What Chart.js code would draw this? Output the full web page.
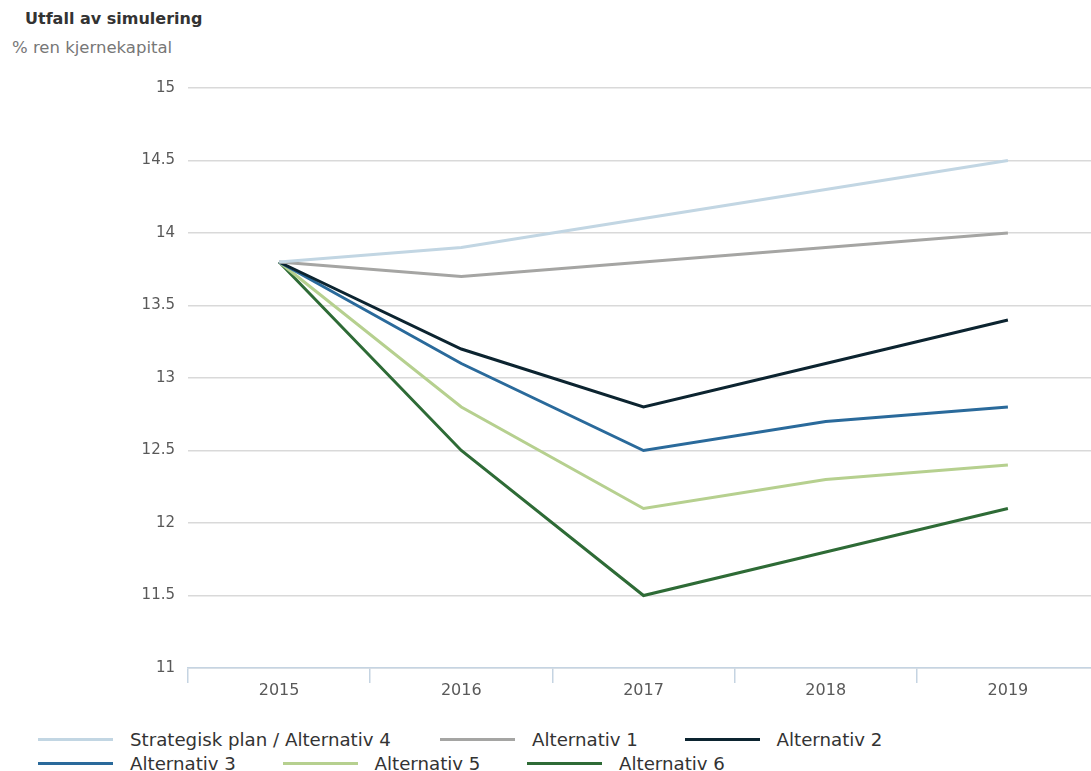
<!DOCTYPE html>
<html>
<head>
<meta charset="utf-8">
<script src="https://cdn.jsdelivr.net/npm/chart.js@4"></script>
<style>
  html, body { margin: 0; padding: 0; background: #fff; overflow: hidden; width: 1091px; height: 771px; }
  #title { position: absolute; left: 25px; top: 9px; font: bold 16px "DejaVu Sans", sans-serif; color: #333; }
  #subtitle { position: absolute; left: 12px; top: 38px; font: 16.5px "DejaVu Sans", sans-serif; color: #777; }
  #wrap { position: absolute; left: 0; top: 0; width: 1100px; height: 705px; }
  #legend { position: absolute; left: 38px; top: 727px; font: 18.2px "DejaVu Sans", sans-serif; color: #333; }
  .row { display: flex; height: 24px; align-items: center; }
  .item { display: flex; align-items: center; min-width: 244.5px; white-space: nowrap; }
  .item.wide { min-width: 402px; }
  .swatch { width: 75px; height: 3px; margin-right: 17px; }
</style>
</head>
<body>
<div id="title">Utfall av simulering</div>
<div id="subtitle">% ren kjernekapital</div>
<div id="wrap"><canvas id="c"></canvas></div>
<div id="legend"></div>
<script>
const years = ["2015", "2016", "2017", "2018", "2019"];
const seriesNames = ["Strategisk plan / Alternativ 4", "Alternativ 1", "Alternativ 2", "Alternativ 3", "Alternativ 5", "Alternativ 6"];
const strategisk = [13.8, 13.9, 14.1, 14.3, 14.5];
const alt1 = [13.8, 13.7, 13.8, 13.9, 14.0];
const alt2 = [13.8, 13.2, 12.8, 13.1, 13.4];
const alt3 = [13.8, 13.1, 12.5, 12.7, 12.8];
const alt5 = [13.8, 12.8, 12.1, 12.3, 12.4];
const alt6 = [13.8, 12.5, 11.5, 11.8, 12.1];
const colors = ["#c2d6e3", "#a5a5a3", "#0c2430", "#2a6a9b", "#b6d08f", "#2e6b36"];
const values = [strategisk, alt1, alt2, alt3, alt5, alt6];

const datasets = seriesNames.map((n, i) => ({
  label: n, data: values[i], borderColor: colors[i], backgroundColor: colors[i],
  borderWidth: 3, pointRadius: 0, pointHoverRadius: 0, tension: 0, fill: false
}));
new Chart(document.getElementById('c'), {
  type: 'line',
  data: { labels: years, datasets },
  options: {
    responsive: true, maintainAspectRatio: false, animation: false,
    layout: { padding: { top: 88, left: 0, right: 1, bottom: 0 } },
    plugins: { legend: { display: false }, tooltip: { enabled: false } },
    scales: {
      x: {
        offset: true,
        grid: { offset: true, drawOnChartArea: false, color: '#c5d4e2', tickLength: 15, lineWidth: 1.5 },
        border: { color: '#c5d4e2', width: 1.5 },
        ticks: { color: '#595959', font: { family: 'DejaVu Sans', size: 16 }, padding: -2 },
        afterFit: s => { s.height = 37; }
      },
      y: {
        min: 11, max: 15,
        grid: { color: '#d9d9d9', drawTicks: false, lineWidth: 1.5 },
        border: { display: false },
        ticks: { stepSize: 0.5, color: '#595959', font: { family: 'DejaVu Sans', size: 15 }, padding: 13,
                 callback: v => String(v) },
        afterFit: s => { s.width = 188; }
      }
    }
  }
});

const rows = [[0, 1, 2], [3, 4, 5]];
const leg = document.getElementById('legend');
rows.forEach(r => {
  const row = document.createElement('div'); row.className = 'row';
  r.forEach(i => {
    const it = document.createElement('div'); it.className = 'item' + (i === 0 ? ' wide' : '');
    const sw = document.createElement('span'); sw.className = 'swatch'; sw.style.background = colors[i];
    const t = document.createElement('span'); t.textContent = seriesNames[i];
    it.appendChild(sw); it.appendChild(t); row.appendChild(it);
  });
  leg.appendChild(row);
});
</script>
</body>
</html>
